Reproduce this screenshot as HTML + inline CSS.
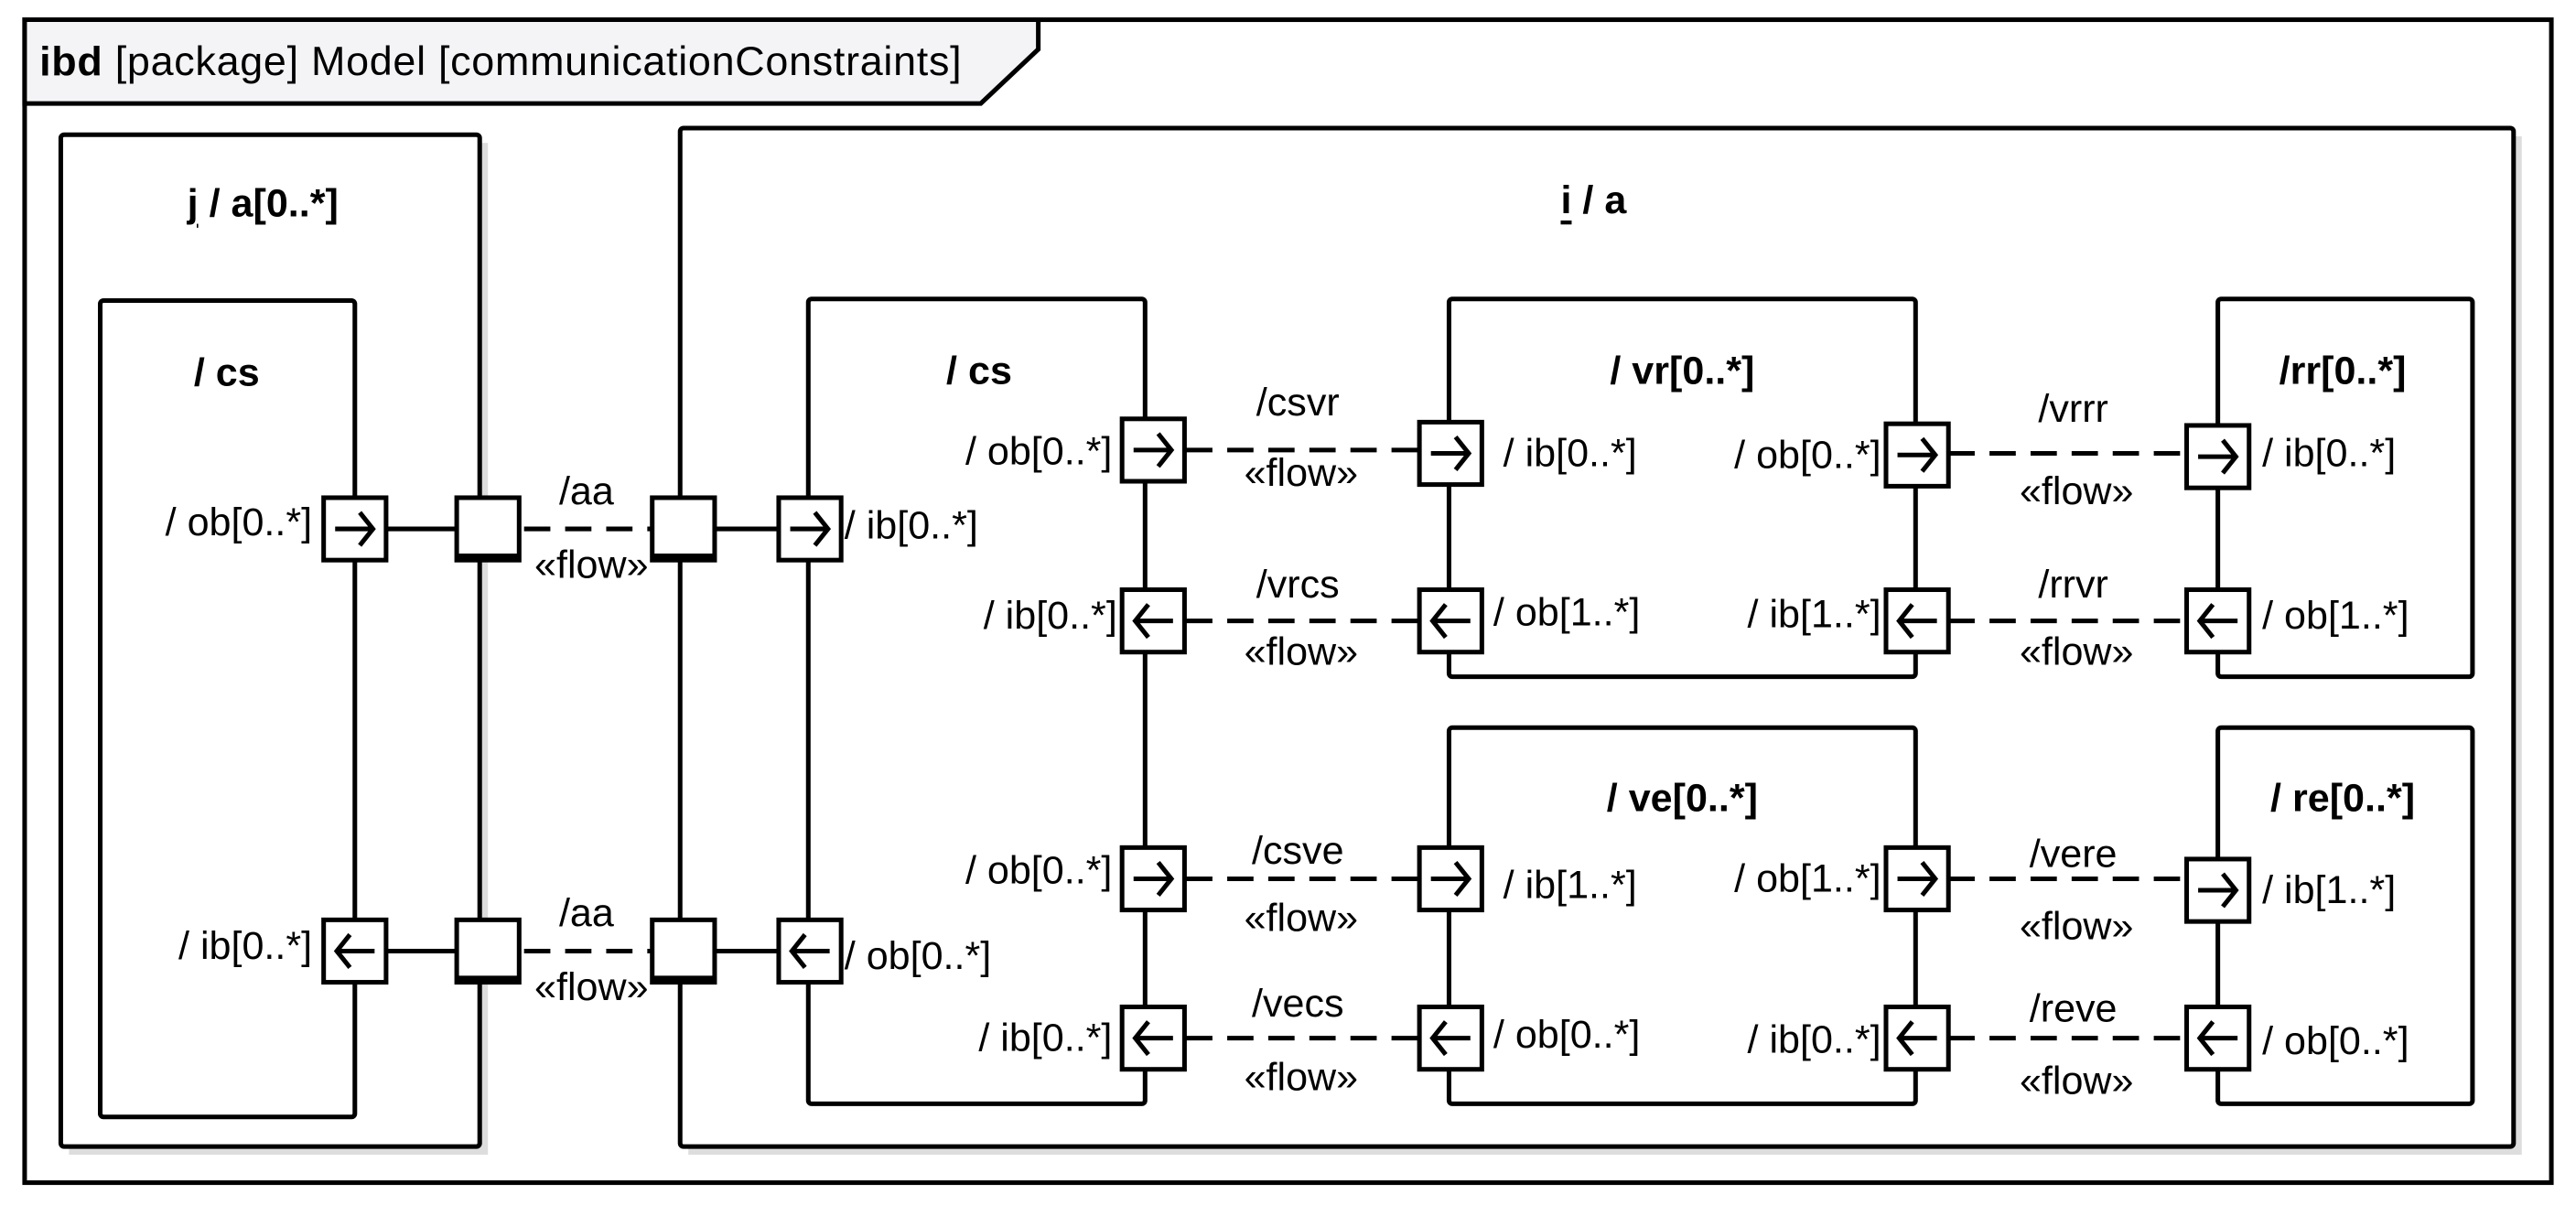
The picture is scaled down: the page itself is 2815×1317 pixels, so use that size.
<!DOCTYPE html>
<html><head><meta charset="utf-8"><style>
html,body{margin:0;padding:0;background:#fff}
svg{display:block}
text{font-family:"Liberation Sans Narrow","Liberation Sans",sans-serif;font-size:24px;fill:#000;dominant-baseline:central}
.b{font-weight:bold;font-size:24px}
.e{text-anchor:end}.m{text-anchor:middle}
</style></head><body>
<svg width="2815" height="1317" viewBox="0 0 1568 733.6" preserveAspectRatio="none" xmlns="http://www.w3.org/2000/svg">
<defs>
<g id="pr"><rect x="-19" y="-19" width="38" height="38" fill="#fff" stroke="#000" stroke-width="2.8"/><path d="M-12 0H11M3 -10L11 0L3 10" fill="none" stroke="#000" stroke-width="2.8"/></g>
<g id="pl"><rect x="-19" y="-19" width="38" height="38" fill="#fff" stroke="#000" stroke-width="2.8"/><path d="M12 0H-11M-3 -10L-11 0L-3 10" fill="none" stroke="#000" stroke-width="2.8"/></g>
<g id="sq"><rect x="-19" y="-19" width="38" height="38" fill="#fff" stroke="#000" stroke-width="2.8"/><rect x="-19" y="15" width="38" height="4" fill="#000"/></g>
</defs>
<g fill="none" stroke="#000" stroke-width="2.8">
<rect x="15" y="12" width="1538" height="708"/>
<path d="M15 12H632V30L597 63H15Z" fill="#f4f3f6"/>
</g>
<text x="24" y="37" style="font-size:25px;letter-spacing:0.4px"><tspan font-weight="bold">ibd</tspan> [package] Model [communicationConstraints]</text>
<g fill="#ddd">
<rect x="42" y="87" width="255" height="616"/><rect x="66" y="188" width="155" height="497"/>
<rect x="419" y="83" width="1116" height="620"/><rect x="497" y="187" width="205" height="490"/>
<rect x="887" y="187" width="284" height="230"/><rect x="1355" y="187" width="155" height="230"/>
<rect x="887" y="448" width="284" height="229"/><rect x="1355" y="448" width="155" height="229"/>
</g>
<g fill="#fff" stroke="#000" stroke-width="2.8">
<rect x="37" y="82" width="255" height="616" rx="2"/><rect x="61" y="183" width="155" height="497" rx="2"/>
<rect x="414" y="78" width="1116" height="620" rx="2"/><rect x="492" y="182" width="205" height="490" rx="2"/>
<rect x="882" y="182" width="284" height="230" rx="2"/><rect x="1350" y="182" width="155" height="230" rx="2"/>
<rect x="882" y="443" width="284" height="229" rx="2"/><rect x="1350" y="443" width="155" height="229" rx="2"/>
</g>
<text class="b m" x="160" y="124"><tspan text-decoration="underline">j</tspan> / a[0..*]</text>
<text class="b m" x="138" y="227">/ cs</text>
<text class="b m" x="970" y="122"><tspan text-decoration="underline">i</tspan> / a</text>
<text class="b m" x="596" y="226">/ cs</text>
<text class="b m" x="1024" y="226">/ vr[0..*]</text>
<text class="b m" x="1426" y="226">/rr[0..*]</text>
<text class="b m" x="1024" y="486">/ ve[0..*]</text>
<text class="b m" x="1426" y="486">/ re[0..*]</text>
<g stroke="#000" stroke-width="2.8" fill="none">
<path d="M236 322H277M434 322H474M236 579H277M434 579H474"/>
<path stroke-dasharray="16,9" d="M319 322H398M319 579H398M722 274H863M722 378H863M722 535H863M722 632H863M1186 276H1331M1186 378H1331M1186 535H1331M1186 632H1331"/>
</g>
<use href="#pr" x="216" y="322"/><use href="#pl" x="216" y="579"/>
<use href="#sq" x="297" y="322"/><use href="#sq" x="297" y="579"/>
<use href="#sq" x="416" y="322"/><use href="#sq" x="416" y="579"/>
<use href="#pr" x="493" y="322"/><use href="#pl" x="493" y="579"/>
<use href="#pr" x="702" y="274"/><use href="#pl" x="702" y="378"/><use href="#pr" x="702" y="535"/><use href="#pl" x="702" y="632"/>
<use href="#pr" x="883" y="276"/><use href="#pl" x="883" y="378"/><use href="#pr" x="883" y="535"/><use href="#pl" x="883" y="632"/>
<use href="#pr" x="1167" y="277"/><use href="#pl" x="1167" y="378"/><use href="#pr" x="1167" y="535"/><use href="#pl" x="1167" y="632"/>
<use href="#pr" x="1350" y="278"/><use href="#pl" x="1350" y="378"/><use href="#pr" x="1350" y="542"/><use href="#pl" x="1350" y="632"/>
<text class="e" x="190" y="318">/ ob[0..*]</text>
<text class="e" x="190" y="576">/ ib[0..*]</text>
<text x="514" y="320">/ ib[0..*]</text>
<text x="514" y="582">/ ob[0..*]</text>
<text class="e" x="677" y="275">/ ob[0..*]</text>
<text class="e" x="680" y="375">/ ib[0..*]</text>
<text class="e" x="677" y="530">/ ob[0..*]</text>
<text class="e" x="677" y="632">/ ib[0..*]</text>
<text x="915" y="276">/ ib[0..*]</text>
<text x="909" y="373">/ ob[1..*]</text>
<text x="915" y="539">/ ib[1..*]</text>
<text x="909" y="630">/ ob[0..*]</text>
<text class="e" x="1145" y="277">/ ob[0..*]</text>
<text class="e" x="1145" y="374">/ ib[1..*]</text>
<text class="e" x="1145" y="535">/ ob[1..*]</text>
<text class="e" x="1145" y="633">/ ib[0..*]</text>
<text x="1377" y="276">/ ib[0..*]</text>
<text x="1377" y="375">/ ob[1..*]</text>
<text x="1377" y="542">/ ib[1..*]</text>
<text x="1377" y="634">/ ob[0..*]</text>
<text class="m" x="357" y="299">/aa</text><text class="m" x="360" y="344">«flow»</text>
<text class="m" x="357" y="556">/aa</text><text class="m" x="360" y="601">«flow»</text>
<text class="m" x="790" y="245">/csvr</text><text class="m" x="792" y="288">«flow»</text>
<text class="m" x="790" y="356">/vrcs</text><text class="m" x="792" y="397">«flow»</text>
<text class="m" x="790" y="518">/csve</text><text class="m" x="792" y="559">«flow»</text>
<text class="m" x="790" y="611">/vecs</text><text class="m" x="792" y="656">«flow»</text>
<text class="m" x="1262" y="249">/vrrr</text><text class="m" x="1264" y="299">«flow»</text>
<text class="m" x="1262" y="356">/rrvr</text><text class="m" x="1264" y="397">«flow»</text>
<text class="m" x="1262" y="520">/vere</text><text class="m" x="1264" y="564">«flow»</text>
<text class="m" x="1262" y="614">/reve</text><text class="m" x="1264" y="658">«flow»</text>
</svg>
</body></html>
